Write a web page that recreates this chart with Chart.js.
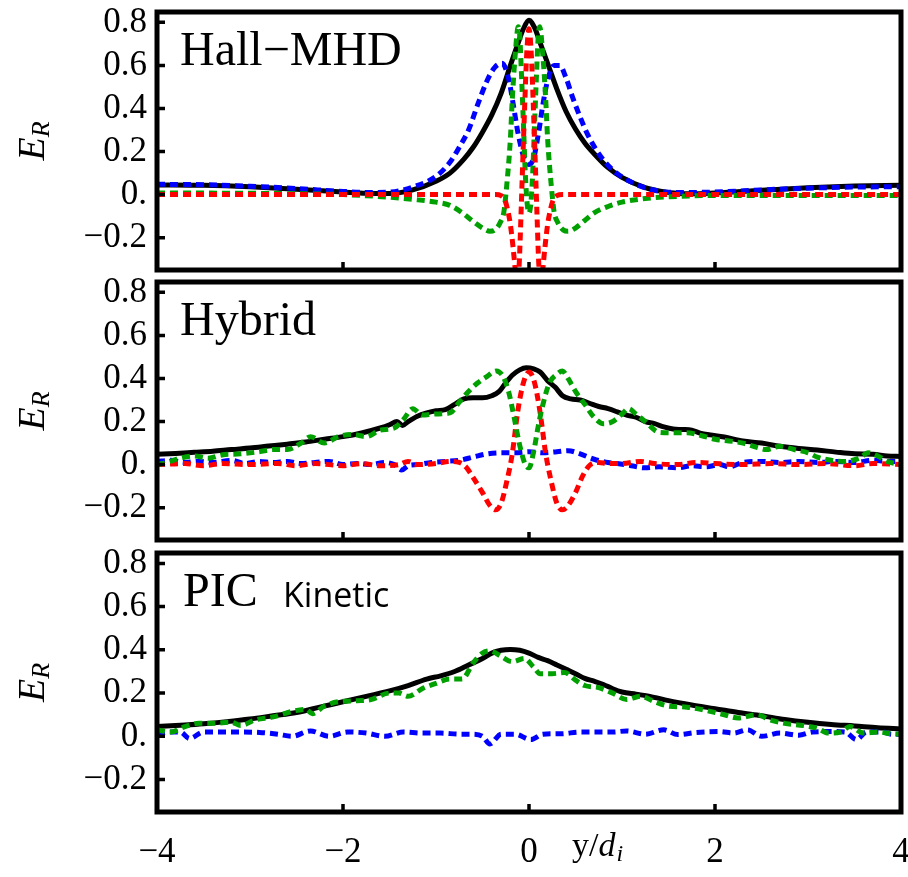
<!DOCTYPE html>
<html>
<head>
<meta charset="utf-8">
<title>E_R profiles: Hall-MHD, Hybrid, PIC</title>
<script src="https://cdn.jsdelivr.net/npm/chart.js@4.4.0/dist/chart.umd.min.js"></script>
<style>
  html, body { margin: 0; padding: 0; background: #fff; overflow: hidden; }
  #wrap { position: relative; width: 908px; height: 877px; overflow: hidden; background: #fff; }
  #wrap canvas { position: absolute; left: 0; }
</style>
</head>
<body>
<div id="wrap">
  <canvas id="pHall" width="930" height="276" style="top:0px"></canvas>
  <canvas id="pHyb" width="930" height="270" style="top:276px"></canvas>
  <canvas id="pPic" width="930" height="331" style="top:546px"></canvas>
</div>
<script>
// ---- axis ticks ----
const yTickValues = [-0.2, 0, 0.2, 0.4, 0.6, 0.8];
const xTickValues = [-4, -2, 0, 2, 4];
const yMin = -0.35, yMax = 0.848;

// ---- Hall-MHD panel ----
const hallBlackX = [-4, -3.5, -3, -2.5, -2, -1.75, -1.5, -1.25, -1, -0.85, -0.7, -0.6, -0.5, -0.4, -0.3, -0.2, -0.12, -0.06, 0, 0.06, 0.12, 0.2, 0.3, 0.4, 0.5, 0.6, 0.7, 0.85, 1, 1.25, 1.5, 1.75, 2, 2.5, 3, 3.5, 4];
const hallBlackY = [0.045, 0.043, 0.036, 0.025, 0.012, 0.006, 0.005, 0.022, 0.062, 0.1, 0.165, 0.22, 0.29, 0.37, 0.47, 0.6, 0.7, 0.77, 0.81, 0.775, 0.705, 0.61, 0.49, 0.385, 0.305, 0.24, 0.19, 0.125, 0.08, 0.032, 0.01, 0.004, 0.008, 0.02, 0.032, 0.04, 0.044];

const hallBlueX = [-4, -3.5, -3, -2.5, -2, -1.75, -1.5, -1.25, -1, -0.85, -0.75, -0.65, -0.55, -0.45, -0.37, -0.29, -0.22, -0.17, -0.12, -0.06, 0, 0.05, 0.1, 0.15, 0.2, 0.27, 0.33, 0.4, 0.47, 0.55, 0.63, 0.72, 0.82, 0.94, 1.1, 1.3, 1.6, 2, 2.5, 3, 3.5, 4];
const hallBlueY = [0.048, 0.046, 0.039, 0.028, 0.015, 0.01, 0.012, 0.035, 0.085, 0.15, 0.22, 0.3, 0.42, 0.53, 0.59, 0.61, 0.54, 0.42, 0.29, 0.18, 0.14, 0.17, 0.28, 0.42, 0.53, 0.6, 0.6, 0.54, 0.45, 0.36, 0.28, 0.21, 0.15, 0.1, 0.058, 0.025, 0.01, 0.012, 0.022, 0.03, 0.035, 0.037];

const hallGreenX = [-4, -3, -2.5, -2, -1.75, -1.5, -1.25, -1, -0.85, -0.7, -0.6, -0.5, -0.42, -0.37, -0.31, -0.27, -0.24, -0.2, -0.18, -0.15, -0.115, -0.1, -0.08, -0.06, -0.04, -0.02, 0, 0.02, 0.04, 0.06, 0.08, 0.1, 0.115, 0.15, 0.18, 0.2, 0.24, 0.27, 0.31, 0.37, 0.42, 0.5, 0.6, 0.7, 0.85, 1, 1.25, 1.5, 2, 3, 4];
const hallGreenY = [0.008, 0.006, 0.004, 0, -0.005, -0.012, -0.022, -0.035, -0.05, -0.09, -0.125, -0.155, -0.17, -0.165, -0.13, -0.08, 0.04, 0.26, 0.44, 0.64, 0.78, 0.74, 0.55, 0.33, 0.1, -0.04, -0.085, -0.04, 0.1, 0.33, 0.55, 0.74, 0.78, 0.64, 0.44, 0.26, 0.04, -0.08, -0.13, -0.165, -0.17, -0.155, -0.12, -0.085, -0.055, -0.035, -0.018, -0.01, -0.004, -0.004, -0.004];

const hallRedX = [-4, -2, -1, -0.5, -0.36, -0.3, -0.26, -0.23, -0.2, -0.17, -0.145, -0.125, -0.105, -0.085, -0.065, -0.045, -0.025, 0, 0.025, 0.045, 0.065, 0.085, 0.105, 0.125, 0.145, 0.17, 0.2, 0.23, 0.26, 0.3, 0.36, 0.5, 1, 2, 4];
const hallRedY = [0, 0, 0, 0, 0, -0.005, -0.025, -0.07, -0.14, -0.25, -0.36, -0.42, -0.32, -0.08, 0.18, 0.43, 0.65, 0.77, 0.65, 0.43, 0.18, -0.08, -0.32, -0.42, -0.36, -0.25, -0.14, -0.07, -0.025, -0.005, 0, 0, 0, 0, 0];

// ---- Hybrid panel ----
const hybBlackX = [-4, -3.8, -3.6, -3.4, -3.2, -3, -2.8, -2.6, -2.4, -2.2, -2, -1.8, -1.6, -1.5, -1.42, -1.36, -1.3, -1.2, -1.1, -1, -0.9, -0.8, -0.7, -0.6, -0.5, -0.4, -0.32, -0.25, -0.18, -0.1, -0.03, 0.05, 0.12, 0.2, 0.28, 0.36, 0.45, 0.55, 0.65, 0.75, 0.85, 0.95, 1.05, 1.15, 1.25, 1.35, 1.45, 1.55, 1.65, 1.75, 1.85, 1.95, 2.1, 2.3, 2.5, 2.7, 2.9, 3.1, 3.3, 3.5, 3.7, 3.85, 4];
const hybBlackY = [0.048, 0.052, 0.057, 0.062, 0.07, 0.077, 0.086, 0.095, 0.105, 0.118, 0.13, 0.147, 0.17, 0.185, 0.2, 0.182, 0.2, 0.225, 0.24, 0.25, 0.255, 0.28, 0.305, 0.31, 0.31, 0.32, 0.34, 0.38, 0.415, 0.44, 0.45, 0.445, 0.43, 0.39, 0.36, 0.32, 0.305, 0.3, 0.285, 0.27, 0.26, 0.245, 0.23, 0.22, 0.2, 0.19, 0.175, 0.165, 0.163, 0.16, 0.145, 0.138, 0.128, 0.11, 0.1, 0.085, 0.075, 0.068, 0.058, 0.05, 0.048, 0.04, 0.038];

const hybGreenX = [-4, -3.9, -3.75, -3.6, -3.45, -3.3, -3.1, -2.9, -2.75, -2.6, -2.45, -2.35, -2.2, -2.05, -1.9, -1.75, -1.6, -1.45, -1.35, -1.25, -1.15, -1, -0.85, -0.75, -0.65, -0.55, -0.45, -0.35, -0.28, -0.22, -0.16, -0.1, -0.04, 0, 0.05, 0.1, 0.15, 0.22, 0.3, 0.36, 0.42, 0.5, 0.6, 0.7, 0.8, 0.9, 1, 1.07, 1.15, 1.25, 1.4, 1.55, 1.7, 1.85, 2, 2.15, 2.3, 2.45, 2.55, 2.7, 2.85, 3, 3.1, 3.25, 3.4, 3.55, 3.65, 3.75, 3.85, 4];
const hybGreenY = [0, 0.01, 0.03, 0.04, 0.03, 0.045, 0.05, 0.06, 0.07, 0.07, 0.1, 0.13, 0.1, 0.13, 0.14, 0.13, 0.16, 0.17, 0.21, 0.26, 0.23, 0.235, 0.24, 0.29, 0.34, 0.38, 0.41, 0.435, 0.41, 0.34, 0.22, 0.09, 0, -0.015, 0.06, 0.18, 0.28, 0.38, 0.42, 0.435, 0.4, 0.34, 0.28, 0.22, 0.19, 0.2, 0.235, 0.26, 0.235, 0.2, 0.15, 0.148, 0.148, 0.135, 0.118, 0.11, 0.1, 0.08, 0.07, 0.085, 0.07, 0.055, 0.035, 0.02, 0.015, 0.03, 0.055, 0.04, 0.015, 0];

const hybRedX = [-4, -3.7, -3.5, -3.3, -3, -2.7, -2.5, -2.3, -2, -1.8, -1.6, -1.4, -1.3, -1.2, -1, -0.85, -0.75, -0.68, -0.6, -0.5, -0.42, -0.36, -0.3, -0.24, -0.18, -0.12, -0.06, 0, 0.06, 0.12, 0.18, 0.24, 0.3, 0.36, 0.42, 0.5, 0.58, 0.66, 0.75, 0.85, 1, 1.2, 1.35, 1.6, 1.8, 2, 2.3, 2.6, 2.9, 3.2, 3.5, 3.7, 4];
const hybRedY = [0, 0.005, -0.005, 0.005, 0, 0.005, -0.005, 0.005, -0.005, 0.005, -0.005, 0, 0.015, 0, 0.005, 0.015, 0.01, -0.01, -0.06, -0.13, -0.19, -0.21, -0.18, -0.08, 0.05, 0.25, 0.38, 0.43, 0.38, 0.24, 0.05, -0.08, -0.18, -0.21, -0.19, -0.13, -0.05, 0, 0.01, 0.005, 0.005, 0.015, 0.005, 0, 0.01, 0.005, 0, 0.005, 0, 0.005, -0.005, 0.005, 0];

const hybBlueX = [-4, -3.85, -3.7, -3.55, -3.4, -3.2, -3.05, -2.9, -2.75, -2.6, -2.45, -2.3, -2.15, -2, -1.85, -1.7, -1.55, -1.45, -1.37, -1.3, -1.2, -1.05, -0.9, -0.75, -0.6, -0.45, -0.3, -0.15, 0, 0.15, 0.3, 0.42, 0.55, 0.7, 0.85, 0.95, 1.1, 1.25, 1.4, 1.6, 1.75, 1.9, 2.05, 2.15, 2.3, 2.5, 2.7, 2.9, 3.1, 3.3, 3.5, 3.7, 3.85, 4];
const hybBlueY = [0.015, 0.02, 0.01, 0.015, 0.01, 0.02, 0.005, 0.015, 0.01, 0.015, 0.005, 0.01, 0.015, 0, 0.005, 0, 0.01, 0, -0.025, -0.005, 0, 0.01, 0.015, 0.02, 0.035, 0.05, 0.055, 0.055, 0.06, 0.055, 0.06, 0.065, 0.05, 0.025, 0.01, 0.005, -0.005, -0.015, -0.01, -0.015, -0.005, -0.01, 0, -0.01, 0.01, 0.015, 0.01, 0.015, 0.01, 0.015, 0.01, 0.02, 0.015, 0.015];

// ---- PIC panel ----
const picBlackX = [-4, -3.7, -3.5, -3.25, -3, -2.75, -2.5, -2.25, -2, -1.75, -1.5, -1.3, -1.1, -0.95, -0.8, -0.65, -0.5, -0.4, -0.3, -0.2, -0.1, 0, 0.1, 0.2, 0.3, 0.4, 0.5, 0.6, 0.7, 0.8, 0.9, 1, 1.15, 1.3, 1.5, 1.75, 2, 2.25, 2.5, 2.75, 3, 3.25, 3.5, 3.75, 4];
const picBlackY = [0.045, 0.052, 0.058, 0.068, 0.08, 0.095, 0.11, 0.135, 0.16, 0.185, 0.21, 0.235, 0.265, 0.28, 0.3, 0.33, 0.36, 0.385, 0.398, 0.402, 0.398, 0.385, 0.365, 0.35, 0.33, 0.31, 0.29, 0.268, 0.255, 0.24, 0.22, 0.205, 0.195, 0.185, 0.165, 0.145, 0.128, 0.11, 0.095, 0.078, 0.065, 0.055, 0.048, 0.04, 0.035];

const picGreenX = [-4, -3.85, -3.7, -3.55, -3.4, -3.2, -3.1, -2.95, -2.75, -2.55, -2.4, -2.33, -2.2, -2.05, -1.85, -1.7, -1.5, -1.4, -1.3, -1.15, -1, -0.85, -0.72, -0.6, -0.5, -0.42, -0.3, -0.18, -0.05, 0.05, 0.12, 0.25, 0.38, 0.5, 0.6, 0.75, 0.9, 1.05, 1.2, 1.35, 1.5, 1.7, 1.9, 2.1, 2.25, 2.45, 2.6, 2.75, 2.95, 3.1, 3.22, 3.35, 3.45, 3.6, 3.75, 3.9, 4];
const picGreenY = [0.03, 0.02, 0.045, 0.06, 0.06, 0.065, 0.05, 0.075, 0.09, 0.115, 0.125, 0.105, 0.14, 0.16, 0.165, 0.17, 0.2, 0.2, 0.185, 0.22, 0.245, 0.265, 0.265, 0.34, 0.385, 0.395, 0.37, 0.345, 0.36, 0.32, 0.29, 0.29, 0.295, 0.26, 0.235, 0.225, 0.2, 0.17, 0.185, 0.16, 0.14, 0.135, 0.12, 0.1, 0.085, 0.1, 0.075, 0.06, 0.05, 0.037, 0.015, 0.02, 0.045, 0.015, 0.02, 0.012, 0.01];

const picBlueX = [-4, -3.85, -3.75, -3.65, -3.5, -3.3, -3.1, -2.9, -2.7, -2.55, -2.35, -2.15, -1.95, -1.75, -1.55, -1.35, -1.15, -0.95, -0.75, -0.6, -0.5, -0.42, -0.3, -0.15, 0.02, 0.15, 0.35, 0.55, 0.75, 0.9, 1.05, 1.25, 1.45, 1.6, 1.8, 2.05, 2.2, 2.35, 2.5, 2.7, 2.9, 3.05, 3.25, 3.4, 3.52, 3.63, 3.8, 3.9, 4];
const picBlueY = [0.01, 0.02, 0.02, -0.01, 0.02, 0.02, 0.02, 0.018, 0.01, 0, 0.025, 0, 0.02, 0.015, 0, 0.02, 0.015, 0.015, 0.01, 0.01, 0, -0.035, 0.01, 0.01, -0.015, 0.01, 0.012, 0.02, 0.02, 0.02, 0.025, 0.01, 0.03, 0.008, 0.018, 0.022, 0.015, 0.03, 0, 0.015, 0.005, 0.02, 0.022, 0.02, -0.015, 0.02, 0.02, 0.01, 0.01];

// ---- styling ----
const BLACK = '#000000', BLUE = '#0000ff', GREEN = '#00a000', RED = '#ff0000';
const SERIF = '"Liberation Serif", "Times New Roman", serif';

function fmtY(v) {
  if (Math.abs(v) < 1e-9) return '0.';
  const s = Math.abs(v).toFixed(1);
  return v < 0 ? '\u2212' + s : s;
}
function fmtX(v) {
  return v < 0 ? '\u2212' + Math.abs(v) : String(v);
}

function series(xs, ys, color, dashed, order) {
  return {
    data: xs.map((x, i) => ({ x: x, y: ys[i] })),
    borderColor: color,
    borderWidth: 5,
    borderDash: dashed ? [8, 5] : [],
    borderCapStyle: 'butt',
    borderJoinStyle: 'round',
    pointRadius: 0,
    fill: false,
    cubicInterpolationMode: 'monotone',
    order: order
  };
}

// frame, inward ticks, panel names and axis captions
const panelFrame = {
  id: 'panelFrame',
  afterDatasetsDraw(chart, args, o) {
    const { ctx, chartArea: a, scales } = chart;
    const xs = scales.x, ys = scales.y;
    ctx.save();
    ctx.strokeStyle = '#000';
    ctx.lineCap = 'butt';
    ctx.lineWidth = 3.5;
    ctx.beginPath();
    yTickValues.forEach(v => {
      const py = ys.getPixelForValue(v);
      ctx.moveTo(a.left, py); ctx.lineTo(a.left + 8, py);
    });
    xTickValues.forEach(v => {
      const px = xs.getPixelForValue(v);
      ctx.moveTo(px, a.bottom); ctx.lineTo(px, a.bottom - 8);
    });
    ctx.stroke();
    ctx.lineWidth = 5;
    ctx.lineJoin = 'miter';
    ctx.strokeRect(a.left, a.top, a.right - a.left, a.bottom - a.top);

    ctx.fillStyle = '#000';
    ctx.textAlign = 'left';
    ctx.textBaseline = 'alphabetic';
    ctx.font = '48px ' + SERIF;
    ctx.fillText(o.title, o.titleX, a.top + 53);
    if (o.subtitle) {
      ctx.font = '34px "Open Sans", sans-serif';
      ctx.fillText(o.subtitle, 283, a.top + 54);
    }
    if (o.xCaption) {
      let cx = 572;
      const by = a.bottom + 44;
      ctx.font = '34px ' + SERIF;
      ctx.fillText('y/', cx, by);
      cx += ctx.measureText('y/').width;
      ctx.font = 'italic 34px ' + SERIF;
      ctx.fillText('d', cx, by);
      cx += ctx.measureText('d').width;
      ctx.font = 'italic 24px ' + SERIF;
      ctx.fillText('i', cx + 1, by + 5);
    }

    // rotated E_R caption
    const cy = (a.top + a.bottom) / 2;
    ctx.translate(44, cy);
    ctx.rotate(-Math.PI / 2);
    ctx.font = 'italic 38px ' + SERIF;
    const wE = ctx.measureText('E').width;
    ctx.font = 'italic 26px ' + SERIF;
    const wR = ctx.measureText('R').width;
    const x0 = -(wE + wR) / 2;
    ctx.font = 'italic 38px ' + SERIF;
    ctx.fillText('E', x0, 0);
    ctx.font = 'italic 26px ' + SERIF;
    ctx.fillText('R', x0 + wE, 5);
    ctx.restore();
  }
};

function makePanel(id, datasets, cfg) {
  return new Chart(document.getElementById(id), {
    type: 'line',
    data: { datasets: datasets },
    options: {
      responsive: false,
      animation: false,
      events: [],
      layout: { padding: { top: cfg.padTop, right: 29, bottom: cfg.padBottom, left: 0 } },
      plugins: {
        legend: { display: false },
        tooltip: { enabled: false },
        panelFrame: { title: cfg.title, titleX: cfg.titleX, subtitle: cfg.subtitle, xCaption: cfg.xCaption }
      },
      scales: {
        x: {
          type: 'linear', min: -4, max: 4,
          display: cfg.showX,
          afterBuildTicks: s => { s.ticks = xTickValues.map(v => ({ value: v })); },
          afterFit: s => {
            s.height = cfg.showX ? 65 : 0;
            s.paddingLeft = 0; s.paddingRight = 0;
          },
          grid: { display: false, drawTicks: false },
          border: { display: false },
          ticks: {
            color: '#000', padding: 20, maxRotation: 0, autoSkip: false,
            font: { family: SERIF, size: 35 },
            callback: v => fmtX(v)
          }
        },
        y: {
          type: 'linear', min: yMin, max: yMax,
          afterBuildTicks: s => { s.ticks = yTickValues.map(v => ({ value: v })); },
          afterFit: s => {
            s.width = 157;
            s.paddingTop = 0; s.paddingBottom = 0;
          },
          grid: { display: false, drawTicks: false },
          border: { display: false },
          ticks: {
            color: '#000', padding: 10, autoSkip: false,
            font: { family: SERIF, size: 35 },
            callback: v => fmtY(v)
          }
        }
      }
    },
    plugins: [panelFrame]
  });
}

makePanel('pHall', [
  series(hallBlackX, hallBlackY, BLACK, false, 4),
  series(hallBlueX, hallBlueY, BLUE, true, 3),
  series(hallGreenX, hallGreenY, GREEN, true, 2),
  series(hallRedX, hallRedY, RED, true, 1)
], { padTop: 12, padBottom: 6, title: 'Hall\u2212MHD', titleX: 180, showX: false });

makePanel('pHyb', [
  series(hybBlackX, hybBlackY, BLACK, false, 4),
  series(hybBlueX, hybBlueY, BLUE, true, 3),
  series(hybRedX, hybRedY, RED, true, 2),
  series(hybGreenX, hybGreenY, GREEN, true, 1)
], { padTop: 6, padBottom: 6, title: 'Hybrid', titleX: 180, showX: false });

makePanel('pPic', [
  series(picBlackX, picBlackY, BLACK, false, 3),
  series(picBlueX, picBlueY, BLUE, true, 2),
  series(picGreenX, picGreenY, GREEN, true, 1)
], { padTop: 7, padBottom: 0, title: 'PIC', titleX: 183, subtitle: 'Kinetic', showX: true, xCaption: true });
</script>
</body>
</html>
